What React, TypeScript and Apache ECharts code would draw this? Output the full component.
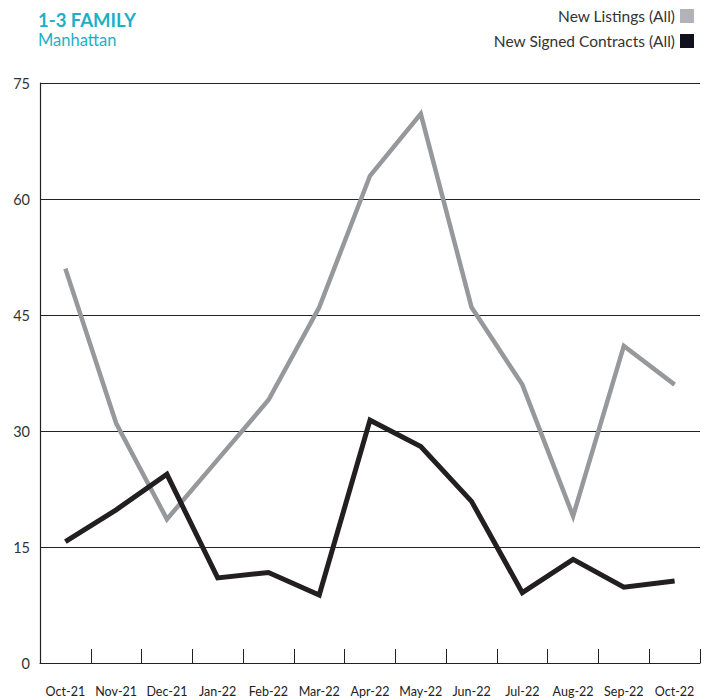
import React, { useEffect, useRef } from "react";
import * as echarts from "echarts";

const categories = ["Oct-21", "Nov-21", "Dec-21", "Jan-22", "Feb-22", "Mar-22", "Apr-22", "May-22", "Jun-22", "Jul-22", "Aug-22", "Sep-22", "Oct-22"];
const newListings = [51, 31, 18.6, 26.3, 34, 46, 63, 71, 46, 36, 19, 41, 36];
const newSignedContracts = [15.7, 19.8, 24.4, 11.0, 11.7, 8.8, 31.4, 28.0, 20.9, 9.1, 13.4, 9.8, 10.6];
const yTicks = [0, 15, 30, 45, 60, 75];

const FONT = "Lato, 'Noto Sans', sans-serif";

export default function App() {
  const ref = useRef<HTMLDivElement>(null);
  useEffect(() => {
    document.body.style.margin = "0";
    if (!ref.current) return;
    const chart = echarts.init(ref.current, undefined, { renderer: "svg" });
    chart.setOption({
      animation: false,
      textStyle: { fontFamily: FONT },
      title: {
        text: "1-3 FAMILY",
        subtext: "Manhattan",
        left: 33,
        top: 5,
        itemGap: 2,
        textStyle: { fontFamily: FONT, fontSize: 18.5, fontWeight: "bold", color: "#1eafc8" },
        subtextStyle: { fontFamily: FONT, fontSize: 16.5, color: "#1eafc8" },
      },
      legend: {
        orient: "vertical",
        right: 8,
        top: 3,
        align: "right",
        itemWidth: 14,
        itemHeight: 14,
        itemGap: 9,
        icon: "rect",
        textStyle: { fontFamily: FONT, fontSize: 15.5, color: "#333" },
        data: [
          { name: "New Listings (All)", itemStyle: { color: "#b2b3b8" } },
          { name: "New Signed Contracts (All)", itemStyle: { color: "#10101f" } },
        ],
      },
      grid: { left: 40, right: 7, top: 83, bottom: 37, containLabel: false },
      xAxis: {
        type: "category",
        data: categories,
        boundaryGap: true,
        axisLine: { lineStyle: { color: "#222", width: 1.2 } },
        axisTick: { show: true, inside: true, length: 14, lineStyle: { color: "#222", width: 1 } },
        axisLabel: { fontFamily: FONT, fontSize: 12.5, color: "#222", margin: 22, interval: 0 },
      },
      yAxis: {
        type: "value",
        min: yTicks[0],
        max: yTicks[yTicks.length - 1],
        interval: 15,
        axisLine: { show: true, lineStyle: { color: "#222", width: 1.2 } },
        axisTick: { show: false },
        splitLine: { lineStyle: { color: "#222", width: 1 } },
        axisLabel: { fontFamily: FONT, fontSize: 14.5, color: "#333", margin: 10, padding: [0, 0, 8, 0] },
      },
      series: [
        {
          name: "New Listings (All)",
          type: "line",
          data: newListings,
          showSymbol: false,
          symbol: "none",
          itemStyle: { color: "#b2b3b8" },
          lineStyle: { color: "#97989c", width: 4.5, join: "miter" },
        },
        {
          name: "New Signed Contracts (All)",
          type: "line",
          data: newSignedContracts,
          showSymbol: false,
          symbol: "none",
          itemStyle: { color: "#10101f" },
          lineStyle: { color: "#231f20", width: 5, join: "miter" },
        },
      ],
    });
    return () => chart.dispose();
  }, []);
  return <div ref={ref} style={{ width: 707, height: 700 }} />;
}
